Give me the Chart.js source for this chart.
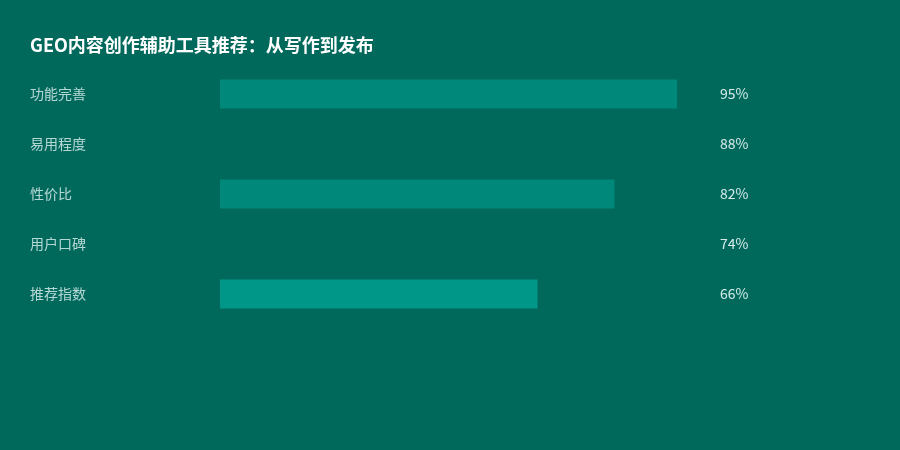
<!DOCTYPE html>
<html>
<head>
<meta charset="utf-8">
<script src="https://cdn.jsdelivr.net/npm/chart.js@4"></script>
<style>
  html, body { margin: 0; padding: 0; background: #00695C; }
  #wrap { width: 900px; height: 450px; }
</style>
</head>
<body>
<div id="wrap"><canvas id="chart"></canvas></div>
<script>
// data
const titleText = 'GEO内容创作辅助工具推荐：从写作到发布'
const categories = ['功能完善', '易用程度', '性价比', '用户口碑', '推荐指数']
const scores = [95, 88, 82, 74, 66]
const barColors = ['#00897B', '#00695C', '#00897B', '#00695C', '#009688']

const bg = '#00695C'
const fontFamily = '"Noto Sans CJK SC", "Noto Sans", sans-serif'

// title + value labels drawn on top
const extras = {
    id: 'extras',
    beforeDraw(chart) {
        const ctx = chart.ctx
        ctx.save()
        ctx.fillStyle = bg
        ctx.fillRect(0, 0, chart.width, chart.height)
        ctx.restore()
    },
    afterDraw(chart) {
        const ctx = chart.ctx
        const area = chart.chartArea
        const yScale = chart.scales.y
        ctx.save()
        ctx.fillStyle = '#FFFFFF'
        ctx.font = 'bold 18px ' + fontFamily
        ctx.textBaseline = 'middle'
        ctx.textAlign = 'left'
        ctx.fillText(titleText, 30, 45)

        ctx.font = '14px ' + fontFamily
        ctx.fillStyle = 'rgba(224, 242, 241, 0.95)'
        scores.forEach((v, i) => {
            ctx.fillText(v + '%', area.right + 19, yScale.getPixelForValue(i))
        })
        ctx.restore()
    }
}

new Chart(document.getElementById('chart'), {
    type: 'bar',
    data: {
        labels: categories,
        datasets: [{
            data: scores,
            backgroundColor: barColors,
            borderWidth: 0,
            barPercentage: 0.58,
            categoryPercentage: 1
        }]
    },
    options: {
        indexAxis: 'y',
        responsive: true,
        maintainAspectRatio: false,
        animation: false,
        layout: { padding: { left: 30, right: 199, top: 69, bottom: 131 } },
        plugins: {
            legend: { display: false },
            tooltip: { enabled: false },
            title: { display: false }
        },
        scales: {
            x: {
                display: false,
                min: 0,
                max: 100
            },
            y: {
                grid: { display: false, drawBorder: false },
                border: { display: false },
                afterFit(scale) { scale.width = 190 },
                ticks: {
                    crossAlign: 'far',
                    color: 'rgba(224, 242, 241, 0.8)',
                    font: { family: fontFamily, size: 14 },
                    padding: 0
                }
            }
        }
    },
    plugins: [extras]
})
</script>
</body>
</html>
